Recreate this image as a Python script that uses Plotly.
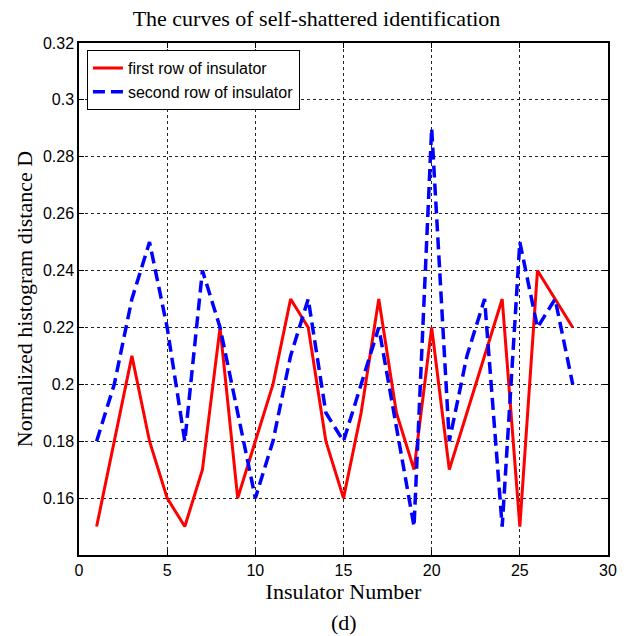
import plotly.graph_objects as go

insulator = list(range(1, 29))
first_row = [0.15, 0.18, 0.21, 0.18, 0.16, 0.15, 0.17, 0.22, 0.16, 0.18,
             0.20, 0.23, 0.22, 0.18, 0.16, 0.19, 0.23, 0.19, 0.17, 0.22,
             0.17, 0.19, 0.21, 0.23, 0.15, 0.24, 0.23, 0.22]
second_row = [0.18, 0.20, 0.23, 0.25, 0.22, 0.18, 0.24, 0.22, 0.19, 0.16,
              0.18, 0.21, 0.23, 0.19, 0.18, 0.20, 0.22, 0.185, 0.15, 0.29,
              0.18, 0.21, 0.23, 0.15, 0.25, 0.22, 0.23, 0.20]
x_ticks = [0, 5, 10, 15, 20, 25, 30]
y_ticks = [0.16, 0.18, 0.20, 0.22, 0.24, 0.26, 0.28, 0.30, 0.32]
y_tick_text = ["0.16", "0.18", "0.2", "0.22", "0.24", "0.26", "0.28", "0.3", "0.32"]

serif = "Liberation Serif, Times New Roman"
sans = "Liberation Sans, Arial"

fig = go.Figure()
fig.add_trace(go.Scatter(x=insulator, y=first_row, mode="lines",
                         name="first row of insulator",
                         line=dict(color="#ff0000", width=3)))
fig.add_trace(go.Scatter(x=insulator, y=second_row, mode="lines",
                         name="second row of insulator",
                         line=dict(color="#0000ff", width=3.5, dash="12px,6px")))

axis_common = dict(
    showline=True, linecolor="black", linewidth=1.5, mirror="ticks",
    ticks="inside", ticklen=5, tickcolor="black",
    showgrid=True, gridcolor="#222222", gridwidth=1, griddash="3px,3px",
    zeroline=False,
    tickfont=dict(family=sans, size=16, color="black"),
)

fig.update_layout(
    width=633, height=636,
    margin=dict(l=79, r=25, t=43, b=81),
    paper_bgcolor="white", plot_bgcolor="white",
    title=dict(text="The curves of self-shattered identification",
               x=0.5, xanchor="center", y=0.971, yanchor="middle",
               font=dict(family=serif, size=22, color="black")),
    xaxis=dict(range=[0, 30], tickvals=x_ticks,
               title=dict(text="Insulator Number", standoff=0,
                          font=dict(family=serif, size=22, color="black")),
               **axis_common),
    yaxis=dict(range=[0.14, 0.32], tickvals=y_ticks, ticktext=y_tick_text,
               title=dict(text="Normalized histogram distance D", standoff=4,
                          font=dict(family=serif, size=22, color="black")),
               **axis_common),
    legend=dict(x=0.015, y=0.986, xanchor="left", yanchor="top",
                bgcolor="white", bordercolor="black", borderwidth=1,
                font=dict(family=sans, size=16, color="black"),
                tracegroupgap=0),
    showlegend=True,
    annotations=[dict(text="(d)", xref="paper", yref="paper", x=0.5, y=-0.131,
                      xanchor="center", yanchor="middle", showarrow=False,
                      font=dict(family=serif, size=22, color="black"))],
)

fig.write_html("out.html")
